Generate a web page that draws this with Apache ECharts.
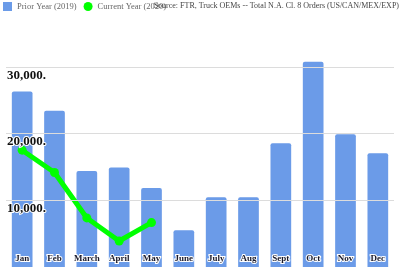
<!DOCTYPE html>
<html><head><meta charset="utf-8">
<script src="https://cdn.jsdelivr.net/npm/echarts@6/dist/echarts.min.js"></script>
<style>html,body{margin:0;padding:0;background:#fff}#c{width:400px;height:267px}</style>
</head><body><div id="c"></div>
<script>
const months = ['Jan','Feb','March','April','May','June','July','Aug','Sept','Oct','Nov','Dec'];
const prior2019 = [26300, 23400, 14400, 14900, 11850, 5500, 10450, 10450, 18550, 30750, 19900, 17050];
const current2020 = [17500, 14150, 7350, 3900, 6650];
const yTicks = [10000, 20000, 30000];
const seriesNames = ['Prior Year (2019)', 'Current Year (2020)'];
const sourceText = 'Source: FTR, Truck OEMs -- Total N.A. Cl. 8 Orders (US/CAN/MEX/EXP)';

const serif = '"Liberation Serif", "Times New Roman", serif';
const chart = echarts.init(document.getElementById('c'), null, {renderer: 'canvas'});
chart.setOption({
  animation: false,
  backgroundColor: '#fff',
  title: {
    text: sourceText, right: 1, top: 2, padding: 0,
    textStyle: {fontFamily: serif, fontSize: 8, fontWeight: 'normal', color: '#444'}
  },
  legend: {
    left: 3, top: 2, padding: 0, itemWidth: 9, itemHeight: 9, itemGap: 7,
    textStyle: {fontFamily: serif, fontSize: 8.5, color: '#666'},
    data: [
      {name: seriesNames[0], icon: 'rect'},
      {name: seriesNames[1], icon: 'circle'}
    ]
  },
  grid: {left: 6, right: 6, top: 0, bottom: 0},
  xAxis: {
    type: 'category', data: months,
    axisLine: {show: false}, axisTick: {show: false},
    axisLabel: {
      inside: true, margin: 4, interval: 0,
      fontFamily: serif, fontSize: 9, fontWeight: 'bold', color: '#1a1a2a',
      textBorderColor: '#fff', textBorderWidth: 2
    },
    z: 10
  },
  yAxis: {
    type: 'value', min: 0, max: 40000, interval: 10000,
    axisLine: {show: false}, axisTick: {show: false},
    splitLine: {show: true, showMaxLine: false, showMinLine: false, lineStyle: {color: '#dcdcdc', width: 1}},
    axisLabel: {
      inside: true, margin: 1, showMinLabel: false, showMaxLabel: false,
      verticalAlign: 'top', padding: [2,0,0,0],
      fontFamily: serif, fontSize: 13, fontWeight: 'bold', color: '#111',
      textBorderColor: '#fff', textBorderWidth: 2,
      formatter: v => yTicks.includes(v) ? v.toLocaleString('en-US') + '.' : ''
    },
    z: 10
  },
  series: [
    {
      name: seriesNames[0], type: 'bar', data: prior2019, barWidth: '64%',
      itemStyle: {color: '#6b9be8', borderRadius: [2,2,0,0]}, z: 2
    },
    {
      name: seriesNames[1], type: 'line', data: current2020,
      symbol: 'circle', symbolSize: 9, showSymbol: true,
      lineStyle: {color: '#00ff00', width: 5},
      itemStyle: {color: '#00ff00'}, z: 5
    }
  ]
});
</script></body></html>
